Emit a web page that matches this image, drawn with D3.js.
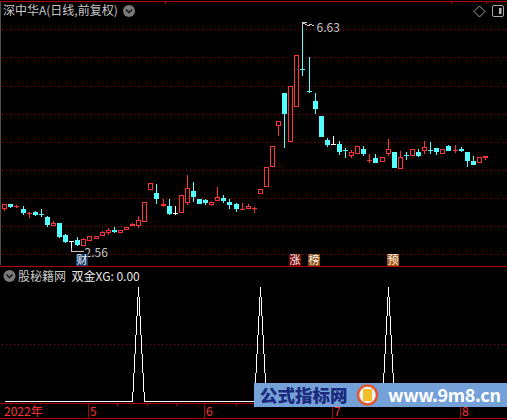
<!DOCTYPE html>
<html><head><meta charset="utf-8">
<script src="https://cdn.jsdelivr.net/npm/d3@7"></script>
<style>
html,body{margin:0;padding:0;background:#000;overflow:hidden}
svg{display:block}
text{font-family:"Noto Sans CJK SC","Noto Sans",sans-serif}
</style>
</head><body><svg id="c" width="507" height="420"></svg>
<script>
// ---------------- data ----------------
const dates = [
"2022-04-12","2022-04-13","2022-04-14","2022-04-15","2022-04-18","2022-04-19","2022-04-20","2022-04-21","2022-04-22","2022-04-25","2022-04-26","2022-04-27","2022-04-28","2022-04-29",
"2022-05-05","2022-05-06","2022-05-09","2022-05-10","2022-05-11","2022-05-12","2022-05-13","2022-05-16","2022-05-17","2022-05-18","2022-05-19","2022-05-20","2022-05-23","2022-05-24","2022-05-25","2022-05-26","2022-05-27","2022-05-30","2022-05-31",
"2022-06-01","2022-06-02","2022-06-06","2022-06-07","2022-06-08","2022-06-09","2022-06-10","2022-06-13","2022-06-14","2022-06-15","2022-06-16","2022-06-17","2022-06-20","2022-06-21","2022-06-22","2022-06-23","2022-06-24","2022-06-27","2022-06-28","2022-06-29","2022-06-30",
"2022-07-01","2022-07-04","2022-07-05","2022-07-06","2022-07-07","2022-07-08","2022-07-11","2022-07-12","2022-07-13","2022-07-14","2022-07-15","2022-07-18","2022-07-19","2022-07-20","2022-07-21","2022-07-22","2022-07-25","2022-07-26","2022-07-27","2022-07-28","2022-07-29",
"2022-08-01","2022-08-02","2022-08-03","2022-08-04","2022-08-05"];

const open  = [3.30,3.39,3.34,3.31,3.23,3.25,3.21,3.16,3.01,3.05, 2.85,2.74,2.75,2.65,2.74,2.77,2.82,2.88,2.93,2.88,
               2.94,3.01,3.01,3.07,3.65,3.59,3.35,3.36,3.24,3.24, 3.41,3.62,3.48,3.46,3.38,3.45,3.50,3.43,3.39,3.30,
               3.31,3.31,3.58,3.70,4.05,4.78,5.36,4.49,5.12,5.80, 5.41,5.23,4.96,4.53,4.46,4.46,4.36,4.24,4.29,4.37,
               4.15,4.21,4.14,4.28,4.31,4.02,4.27,4.24,4.32,4.33, 4.36,4.39,4.28,4.43,4.33,4.38,4.32,4.16,4.12,4.22];
const high  = [3.39,3.39,3.37,3.36,3.26,3.27,3.30,3.18,3.09,3.06, 2.86,2.74,2.81,2.79,2.82,2.83,2.91,2.96,2.98,2.94,
               2.98,3.06,3.18,3.43,3.76,3.75,3.49,3.48,3.35,3.56, 3.91,3.78,3.49,3.49,3.45,3.69,3.55,3.49,3.41,3.41,
               3.40,3.34,3.66,4.06,4.43,4.87,5.36,5.49,6.05,6.63, 6.01,5.36,4.96,4.57,4.61,4.52,4.39,4.36,4.43,4.43,
               4.28,4.28,4.23,4.55,4.32,4.34,4.31,4.37,4.37,4.52, 4.50,4.39,4.37,4.45,4.45,4.41,4.32,4.25,4.23,4.24];
const low   = [3.27,3.33,3.32,3.19,3.14,3.18,3.16,2.98,3.00,2.79, 2.70,2.56,2.64,2.65,2.74,2.77,2.82,2.84,2.87,2.87,
               2.93,3.00,2.96,3.07,3.65,3.40,3.34,3.20,3.20,3.24, 3.37,3.43,3.39,3.37,3.35,3.45,3.41,3.31,3.26,3.30,
               3.31,3.24,3.58,3.70,4.05,4.61,4.39,4.49,5.12,5.67, 5.36,4.99,4.58,4.40,4.45,4.26,4.22,4.21,4.29,4.25,
               4.13,4.13,4.14,4.24,4.04,4.02,4.18,4.24,4.23,4.28, 4.29,4.26,4.28,4.33,4.30,4.32,4.06,4.08,4.12,4.17];
const close = [3.39,3.34,3.35,3.23,3.24,3.19,3.20,3.02,3.05,2.80, 2.71,2.74,2.66,2.78,2.82,2.83,2.90,2.94,2.89,2.94,
               2.98,3.03,3.11,3.43,3.76,3.49,3.40,3.21,3.24,3.56, 3.67,3.52,3.40,3.41,3.43,3.51,3.45,3.37,3.30,3.31,
               3.36,3.32,3.66,4.05,4.43,4.87,5.00,5.49,6.05,5.78, 5.39,5.08,4.58,4.45,4.46,4.31,4.35,4.32,4.43,4.29,
               4.17,4.13,4.23,4.37,4.04,4.23,4.26,4.37,4.25,4.41, 4.35,4.31,4.37,4.33,4.35,4.34,4.15,4.08,4.23,4.24];

// indicator 双金XG
const xg = [0,0,0,0,0,0,0,0,0,0, 0,0,0,0,0,0,0,0,0,0,
            0,0,1,0,0,0,0,0,0,0, 0,0,0,0,0,0,0,0,0,0,
            0,0,1,0,0,0,0,0,0,0, 0,0,0,0,0,0,0,0,0,0,
            0,0,0,1,0,0,0,0,0,0, 0,0,0,0,0,0,0,0,0,0];

const priceGrid = [2.5,3.0,3.5,4.0,4.5,5.0,5.5,6.0,6.5];
const indGrid = [0.5];
const yearLabel = "2022年";
const minorTickIdx = [18.5,23.5,28.2,38];
const tagIdx  = [12,47,50,63];
const tagText = ["财","涨","榜","预"];
const titleText = "深中华A(日线,前复权)";
const indName = "股秘籍网";
const indLabel = "双金XG: 0.00";

// ---------------- style ----------------
const UP = "#ff3434", DOWN = "#54ffff", FLAT = "#ffffff";
const GRID = "#a80000", FRAME = "#b00000", AXISTXT = "#ff3232";
const tagColor = {"财":"#143c6c","涨":"#7c0606","榜":"#8e4a12","预":"#a8560e"};

const svg = d3.select("#c");
svg.append("rect").attr("width",507).attr("height",420).attr("fill","#000");

const x = d3.scalePoint().domain(dates).range([4.3, 485]);
const xi = d3.scaleLinear().domain([0, dates.length-1]).range([4.3, 485]);
const y = d3.scaleLinear().domain([2.5, 6.5]).range([254.3, 29.3]);
const yi = d3.scaleLinear().domain([0, 1]).range([401, 286.7]);

const crisp = svg.append("g").attr("shape-rendering","crispEdges");

// frame lines
crisp.append("line").attr("x1",0).attr("x2",507).attr("y1",1.5).attr("y2",1.5).attr("stroke",FRAME);
[165.5,451.5,486.5].forEach(px=>crisp.append("line").attr("x1",px).attr("x2",px).attr("y1",1).attr("y2",4).attr("stroke",FRAME));
crisp.append("line").attr("x1",0.5).attr("x2",0.5).attr("y1",2).attr("y2",265).attr("stroke","#505050");
crisp.append("line").attr("x1",0).attr("x2",507).attr("y1",266.5).attr("y2",266.5).attr("stroke",FRAME);

// grids
priceGrid.forEach(v=>{
  const yy = Math.round(y(v))+0.5;
  crisp.append("line").attr("x1",2).attr("x2",507).attr("y1",yy).attr("y2",yy)
    .attr("stroke",GRID).attr("stroke-dasharray","1,3");
});
indGrid.forEach(v=>{
  const yy = Math.round(yi(v))+0.5;
  crisp.append("line").attr("x1",2).attr("x2",507).attr("y1",yy).attr("y2",yy)
    .attr("stroke",GRID).attr("stroke-dasharray","1,3");
});

// candles
const cg = crisp.append("g");
dates.forEach((d,i)=>{
  const cx = Math.round(x(d));
  const O=open[i], C=close[i], Hh=high[i], L=low[i];
  const yo=Math.round(y(O)), yc=Math.round(y(C)), yh=Math.round(y(Hh)), yl=Math.round(y(L));
  const top=Math.min(yo,yc), bot=Math.max(yo,yc);
  const col = C>O ? UP : (C<O ? DOWN : FLAT);
  const wx = cx+0.5;
  if (C>O) {
    if (bot-top >= 3) {
      if (yh < top) cg.append("line").attr("x1",wx).attr("x2",wx).attr("y1",yh).attr("y2",top).attr("stroke",col);
      if (yl > bot) cg.append("line").attr("x1",wx).attr("x2",wx).attr("y1",bot).attr("y2",yl).attr("stroke",col);
      cg.append("rect").attr("x",cx-1.5).attr("y",top+0.5).attr("width",4).attr("height",bot-top-1)
        .attr("fill","none").attr("stroke",col);
    } else {
      if (yl>yh) cg.append("line").attr("x1",wx).attr("x2",wx).attr("y1",yh).attr("y2",yl).attr("stroke",col);
      cg.append("rect").attr("x",cx-2).attr("y",top).attr("width",5).attr("height",Math.max(1,bot-top)).attr("fill",col);
    }
  } else {
    if (yl>yh) cg.append("line").attr("x1",wx).attr("x2",wx).attr("y1",yh).attr("y2",yl).attr("stroke",col);
    cg.append("rect").attr("x",cx-2).attr("y",top).attr("width",5).attr("height",Math.max(1,bot-top)).attr("fill",col);
  }
});

// high / low markers
const hiIdx = d3.maxIndex(high), loIdx = d3.minIndex(low);
const hx = Math.round(x(dates[hiIdx]))+0.5, hy = Math.round(y(high[hiIdx]))+0.5;
svg.append("path").attr("d",`M${hx},${hy} h4 M${hx},${hy} v4 M${hx},${hy} L${hx+5},${hy+3} L${hx+9},${hy+2} L${hx+12},${hy+4}`)
  .attr("stroke","#c8c8c8").attr("fill","none").attr("shape-rendering","crispEdges");
svg.append("text").attr("x",hx+14).attr("y",hy+9).attr("font-size",12).attr("fill","#c8c8c8").text(high[hiIdx].toFixed(2));
const lx = Math.round(x(dates[loIdx]))+0.5, ly = Math.round(y(low[loIdx]))+0.5;
svg.append("path").attr("d",`M${lx},${ly} h4 M${lx},${ly} v-4 M${lx},${ly} L${lx+12},${ly}`)
  .attr("stroke","#c8c8c8").attr("fill","none").attr("shape-rendering","crispEdges");
svg.append("text").attr("x",lx+13).attr("y",ly+5).attr("font-size",12).attr("fill","#c8c8c8").text(low[loIdx].toFixed(2));

// tags
tagIdx.forEach((ti,k)=>{
  const cx = Math.round(x(dates[ti]));
  svg.append("rect").attr("x",cx-1).attr("y",254).attr("width",12).attr("height",12).attr("fill",tagColor[tagText[k]]);
  svg.append("text").attr("x",cx+5).attr("y",264).attr("text-anchor","middle").attr("font-size",11)
    .attr("fill","#f4f4f4").text(tagText[k]);
});

// indicator line
const line = d3.line().x((d,i)=>Math.round(x(dates[i]))+0.5).y(d=>Math.round(yi(d))+0.5);
svg.append("path").datum(xg).attr("d",line).attr("fill","none").attr("stroke","#ffffff")
  .attr("stroke-width",1).attr("shape-rendering","crispEdges");

// titles
svg.append("text").attr("x",3).attr("y",15).attr("font-size",12).attr("fill","#c8c8c8").text(titleText);
function chevCircle(cx,cy){
  svg.append("circle").attr("cx",cx).attr("cy",cy).attr("r",6).attr("fill","#7a7a7a");
  svg.append("path").attr("d",`M${cx-3},${cy-1.5} L${cx},${cy+1.5} L${cx+3},${cy-1.5}`).attr("stroke","#1a1a1a")
    .attr("stroke-width",1.6).attr("fill","none");
}
chevCircle(129,11);
chevCircle(9.5,276);
svg.append("text").attr("x",18).attr("y",281).attr("font-size",12).attr("fill","#c8c8c8").text(indName);
svg.append("text").attr("x",71.5).attr("y",281).attr("font-size",12).attr("fill","#e8e8e8").text(indLabel);

// top-right icons
svg.append("path").attr("d","M479.5,6 L485,11.5 L479.5,17 L474,11.5 Z").attr("fill","none").attr("stroke","#a8a8a8");
svg.append("rect").attr("x",492.5).attr("y",5.5).attr("width",11).attr("height",11).attr("rx",1.5)
  .attr("fill","none").attr("stroke","#a8a8a8");
svg.append("rect").attr("x",499).attr("y",8).attr("width",2.5).attr("height",6).attr("fill","#b8b8b8");

// bottom axis
crisp.append("line").attr("x1",0).attr("x2",507).attr("y1",403.5).attr("y2",403.5).attr("stroke",FRAME);
crisp.append("line").attr("x1",0).attr("x2",507).attr("y1",418.5).attr("y2",418.5).attr("stroke",FRAME);
svg.append("text").attr("x",4).attr("y",415.5).attr("font-size",12).attr("fill",AXISTXT).text(yearLabel);
dates.forEach((d,i)=>{
  if (i===0) return;
  const m = +d.slice(5,7), pm = +dates[i-1].slice(5,7);
  if (m!==pm) {
    const lxp = Math.round(x(d))-0.5;
    crisp.append("line").attr("x1",lxp).attr("x2",lxp).attr("y1",404).attr("y2",419).attr("stroke",FRAME);
    svg.append("text").attr("x",lxp+1.5).attr("y",415.5).attr("font-size",12).attr("fill",AXISTXT).text(String(m));
  }
});
minorTickIdx.forEach(t=>{
  const px = Math.round(xi(t))+0.5;
  crisp.append("line").attr("x1",px).attr("x2",px).attr("y1",404).attr("y2",406).attr("stroke",FRAME);
});

// watermark
const wm = svg.append("g");
wm.append("rect").attr("x",254).attr("y",383).attr("width",253).attr("height",24).attr("fill","#74a1d8");
wm.append("text").attr("x",260).attr("y",402).attr("font-size",17.5).attr("font-weight",900)
  .attr("fill","#1b2a7c").text("公式指标网");
wm.append("circle").attr("cx",367.5).attr("cy",395).attr("r",9.5).attr("fill","#eef2f8").attr("stroke","#e0582c").attr("stroke-width",2.5);
wm.append("rect").attr("x",363).attr("y",389).attr("width",9).attr("height",12).attr("fill","#f0c02a");
wm.append("text").attr("x",388).attr("y",402).attr("font-size",18).attr("font-weight",700)
  .attr("font-family","'Liberation Sans',Arial,sans-serif").attr("fill","#ffffff")
  .attr("textLength",113).text("www.9m8.cn");
</script>
</body></html>
